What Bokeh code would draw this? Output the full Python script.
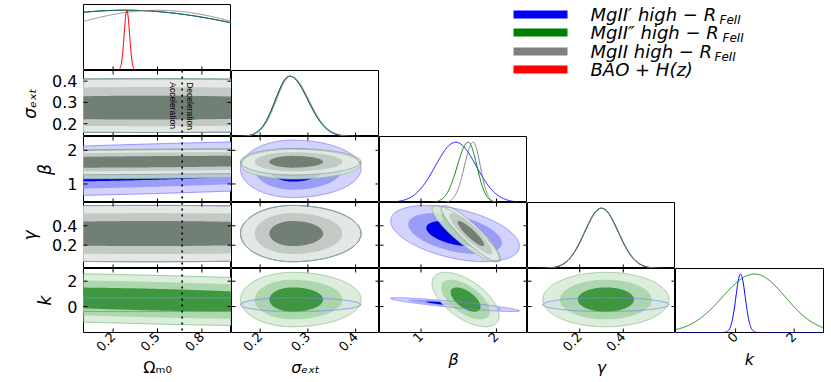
import numpy as np
from bokeh.plotting import figure
from bokeh.models import GridBox, LinearAxis, FixedTicker, Span, Label, Range1d
from bokeh.embed import file_html
from bokeh.resources import INLINE
from bokeh.core.properties import value

# ---------------- data ----------------
PARAM_LABELS = ["Ωₘ₀", "σₑₓₜ", "β", "γ", "k"]
PARAM_LABEL_STYLE = ["normal", "italic", "italic", "italic", "italic"]
PARAM_RANGES = [(0.0, 1.0), (0.14, 0.45), (0.45, 2.41), (-0.04, 0.64), (-2.05, 3.0)]
PARAM_TICKS = [[0.2, 0.5, 0.8], [0.2, 0.3, 0.4], [1, 2], [0.2, 0.4], [0, 2]]

OMEGA_TRANSITION = 2.0 / 3.0
TRANSITION_TEXT = ["Acceleration", "Deceleration"]

SERIES_NAMES = ["MgII′ high − R", "MgII″ high − R", "MgII high − R", "BAO + H(z)"]
SERIES_SUBS = ["FeII", "FeII", "FeII"]
SERIES_COLORS = ["#0000ff", "#008000", "#808080", "#ff0000"]

# 1D marginals: peak, lower sd, upper sd  (order: Om, sigma_ext, beta, gamma, k)
blue_peak_1d = [0.28, 0.262, 1.46, 0.30, 0.17]
blue_sdlo_1d = [1.05, 0.030, 0.27, 0.077, 0.16]
blue_sdhi_1d = [1.05, 0.038, 0.27, 0.077, 0.16]
green_peak_1d = [0.28, 0.262, 1.625, 0.30, 0.65]
green_sdlo_1d = [1.05, 0.030, 0.145, 0.077, 1.10]
green_sdhi_1d = [1.05, 0.038, 0.115, 0.077, 1.05]
gray_peak_1d = [0.50, 0.264, 1.69, 0.30]
gray_sdlo_1d = [0.78, 0.030, 0.115, 0.078]
gray_sdhi_1d = [0.78, 0.038, 0.095, 0.078]
bao_peak_1d = [0.293]
bao_sd_1d = [0.018]

# 2D contours: centre, lower/upper sd, pairwise correlations
blue_mean = [0.45, 0.268, 1.45, 0.32, 0.15]
blue_sdlo = [1.0, 0.032, 0.25, 0.085, 0.16]
blue_sdhi = [1.0, 0.042, 0.25, 0.085, 0.16]
blue_corr = [(0, 2, 0.5), (2, 3, -0.45), (2, 4, -0.9)]

green_mean = [0.45, 0.268, 1.59, 0.32, 0.55]
green_sdlo = [1.0, 0.032, 0.13, 0.085, 0.63]
green_sdhi = [1.0, 0.042, 0.13, 0.085, 0.63]
green_corr = [(0, 2, 0.3), (0, 4, -0.45), (2, 3, -0.88), (2, 4, -0.6)]

gray_mean = [0.45, 0.268, 1.66, 0.32]
gray_sdlo = [1.0, 0.032, 0.115, 0.085]
gray_sdhi = [1.0, 0.042, 0.115, 0.085]
gray_corr = [(0, 2, 0.3), (2, 3, -0.9)]

LEVEL_RADII = [3.41, 2.48, 1.52]  # 99.7 %, 95.4 %, 68.3 % (outer -> inner)

# ---------------- styles ----------------
DS2D = [
    dict(mean=blue_mean, lo=blue_sdlo, hi=blue_sdhi, corr=blue_corr,
         fills=["#d2d2fc", "#9b9bf8", "#0000e8"], alpha=1.0, edge="#8080ff"),
    dict(mean=green_mean, lo=green_sdlo, hi=green_sdhi, corr=green_corr,
         fills=["#d6ead6", "#a5d2a5", "#2b8c2b"], alpha=0.85, edge="#86c386"),
    dict(mean=gray_mean, lo=gray_sdlo, hi=gray_sdhi, corr=gray_corr,
         fills=["#e6e8e6", "#c0c6c2", "#68776c"], alpha=0.9, edge="#8c9aa0"),
]
DS1D = [
    dict(peak=blue_peak_1d, lo=blue_sdlo_1d, hi=blue_sdhi_1d, color=SERIES_COLORS[0]),
    dict(peak=green_peak_1d, lo=green_sdlo_1d, hi=green_sdhi_1d, color=SERIES_COLORS[1]),
    dict(peak=gray_peak_1d, lo=gray_sdlo_1d, hi=gray_sdhi_1d, color=SERIES_COLORS[2]),
    dict(peak=bao_peak_1d, lo=bao_sd_1d, hi=bao_sd_1d, color=SERIES_COLORS[3]),
]

FW = 148
FH_ROWS = [66, 66, 66, 66, 64]
LEFT0 = 83
TOP0 = 4
RIGHT4 = 6
FONT = "DejaVu Sans"
T = np.linspace(0.0, 2.0 * np.pi, 721)
DIAG_TOP = 1.095


def contour_xy(ds, i, j, r):
    rho = 0.0
    for a, b, c in ds["corr"]:
        if (a, b) == (min(i, j), max(i, j)):
            rho = c
    u = r * np.cos(T)
    v = r * (rho * np.cos(T) + np.sqrt(1.0 - rho ** 2) * np.sin(T))
    x = ds["mean"][i] + u * np.where(u < 0, ds["lo"][i], ds["hi"][i])
    y = ds["mean"][j] + v * np.where(v < 0, ds["lo"][j], ds["hi"][j])
    return x, y


def marginal(xs, peak, lo, hi):
    d = xs - peak
    s = np.where(d < 0, lo, hi)
    return np.exp(-0.5 * (d / s) ** 2)


def add_label_axis(p, side, ticks, label, style):
    ax = LinearAxis(ticker=FixedTicker(ticks=ticks))
    ax.axis_line_color = None
    ax.major_tick_in = 0
    ax.major_tick_out = 0
    ax.major_tick_line_color = None
    ax.minor_tick_line_color = None
    ax.major_label_text_font = FONT
    ax.major_label_text_color = "black"
    if side == "below":
        ax.major_label_text_font_size = "13px"
        ax.major_label_orientation = np.pi / 4
        ax.major_label_standoff = 2
        ax.axis_label_standoff = 0
        ax.axis_label_text_font_size = "16px"
    else:
        ax.major_label_text_font_size = "16px"
        ax.major_label_standoff = 6
        ax.axis_label_standoff = 9
        ax.axis_label_text_font_size = "17px"
    ax.axis_label = label
    ax.axis_label_text_font = FONT
    ax.axis_label_text_font_style = style
    ax.axis_label_text_color = "black"
    p.add_layout(ax, side)


def tick_marks(p, xs, ys, vertical):
    p.scatter(xs, ys, marker="dash", size=8, angle=np.pi / 2 if vertical else 0.0,
              line_color="black", line_width=1)


def make_panel(row, col):
    diag = row == col
    xr = PARAM_RANGES[col]
    yr = (0.0, DIAG_TOP) if diag else PARAM_RANGES[row]
    p = figure(frame_width=FW, frame_height=FH_ROWS[row],
               x_range=Range1d(*xr), y_range=Range1d(*yr),
               x_axis_type=None, y_axis_type=None,
               output_backend="svg", toolbar_location=None,
               min_border=0,
               min_border_left=LEFT0 if col == 0 else 0,
               min_border_right=RIGHT4 if col == 4 else 0,
               min_border_top=TOP0 if row == 0 else 0,
               min_border_bottom=0)
    p.outline_line_color = "black"
    p.outline_line_width = 1
    p.background_fill_color = "white"
    p.border_fill_color = "white"

    if row == 4:
        add_label_axis(p, "below", PARAM_TICKS[col], PARAM_LABELS[col], PARAM_LABEL_STYLE[col])

    xt = PARAM_TICKS[col]
    if diag:
        xs = np.linspace(xr[0], xr[1], 500)
        for ds in DS1D:
            if col < len(ds["peak"]):
                p.line(xs, marginal(xs, ds["peak"][col], ds["lo"][col], ds["hi"][col]),
                       line_color=ds["color"], line_width=1)
        tick_marks(p, xt, [yr[0]] * len(xt), True)
        return p

    if col == 0:
        add_label_axis(p, "left", PARAM_TICKS[row], PARAM_LABELS[row], PARAM_LABEL_STYLE[row])

    for ds in DS2D:
        if max(row, col) < len(ds["mean"]):
            for r, c in zip(LEVEL_RADII, ds["fills"]):
                x, y = contour_xy(ds, col, row, r)
                p.patch(x, y, fill_color=c, fill_alpha=ds["alpha"], line_color=None)
    for ds in DS2D:
        if max(row, col) < len(ds["mean"]):
            x, y = contour_xy(ds, col, row, LEVEL_RADII[0])
            p.line(x, y, line_color=ds["edge"], line_width=0.8)

    yt = PARAM_TICKS[row]
    tick_marks(p, xt, [yr[0]] * len(xt), True)
    tick_marks(p, xt, [yr[1]] * len(xt), True)
    tick_marks(p, [xr[0]] * len(yt), yt, False)
    tick_marks(p, [xr[1]] * len(yt), yt, False)

    if col == 0:
        p.add_layout(Span(location=OMEGA_TRANSITION, dimension="height",
                          line_color="black", line_dash="dotted", line_width=1.6))
        if row == 1:
            p.add_layout(Label(x=OMEGA_TRANSITION, y=0.395, x_offset=-4,
                               text=TRANSITION_TEXT[0], angle=-np.pi / 2,
                               text_align="left", text_baseline="top",
                               text_font="Liberation Sans", text_font_size="8.5px",
                               text_color="black"))
            p.add_layout(Label(x=OMEGA_TRANSITION, y=0.395, x_offset=3,
                               text=TRANSITION_TEXT[1], angle=-np.pi / 2,
                               text_align="left", text_baseline="bottom",
                               text_font="Liberation Sans", text_font_size="8.5px",
                               text_color="black"))
    return p


# ---------------- legend panel (spans rows 0-1, columns 2-4) ----------------
LW = 3 * FW
LH = FH_ROWS[0] + FH_ROWS[1]
leg = figure(frame_width=LW, frame_height=LH, x_range=Range1d(0, LW), y_range=Range1d(0, LH),
             x_axis_type=None, y_axis_type=None, output_backend="svg", toolbar_location=None,
             min_border=0, min_border_top=TOP0, min_border_right=RIGHT4)
leg.outline_line_color = None
row_y = [LH - t for t in (10, 28, 47, 65)]
leg.rect(x=[161] * 4, y=row_y, width=54, height=8, fill_color=SERIES_COLORS,
         line_color=None)
leg.text(x=[211] * 4, y=row_y, text=SERIES_NAMES, text_font=value(FONT),
         text_font_style="italic", text_font_size="18px", text_baseline="middle",
         text_color="black")
sub_x = [211 + 129, 211 + 132, 211 + 124]
leg.text(x=sub_x, y=[yy - 5 for yy in row_y[:3]], text=SERIES_SUBS, text_font=value(FONT),
         text_font_style="italic", text_font_size="12px", text_baseline="middle",
         text_color="black")

children = []
for row in range(5):
    for col in range(row + 1):
        children.append((make_panel(row, col), row, col))
children.append((leg, 0, 2, 2, 3))

grid = GridBox(children=children, spacing=0)

with open("out.html", "w") as f:
    f.write(file_html(grid, INLINE, title="corner"))
